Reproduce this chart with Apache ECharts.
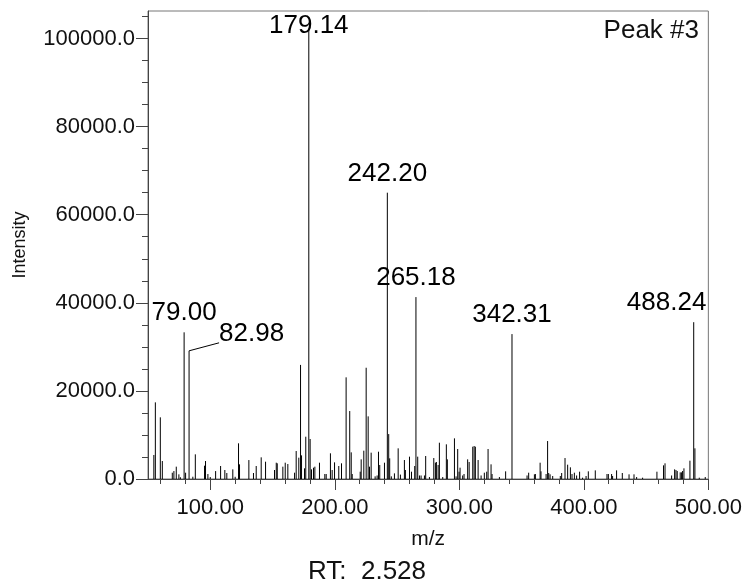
<!DOCTYPE html>
<html>
<head>
<meta charset="utf-8">
<script src="https://cdn.jsdelivr.net/npm/echarts@6/dist/echarts.min.js"></script>
<style>
  html, body { margin: 0; padding: 0; background: #fff; }
  #main { width: 745px; height: 586px; }
</style>
</head>
<body>
<div id="main"></div>
<script>
// m/z of each stick and its intensity
var mzValues = [
  54.7, 55.9, 59.9, 61.5, 69.5, 70.8, 72.7, 74.8, 76.0, 79.00,
  80.2, 82.98, 86.0, 88.0, 95.4, 96.2, 98.1, 100.0, 104.3, 108.3,
  111.7, 113.3, 118.1, 120.0, 122.7, 123.5, 131.0, 134.7, 136.9, 140.9,
  144.4, 151.6, 153.0, 153.8, 158.3, 160.2, 162.3, 167.7, 169.0, 171.1,
  172.5, 173.3, 175.7, 176.7, 179.14, 180.2, 181.3, 182.9, 184.0, 187.7,
  192.0, 193.1, 196.5, 197.9, 199.8, 203.2, 205.4, 209.1, 212.0, 213.2,
  214.0, 220.4, 221.2, 223.3, 225.2, 226.8, 227.9, 229.2, 232.4, 234.0,
  235.1, 236.1, 239.9, 242.20, 243.3, 244.1, 245.4, 247.9, 250.9, 252.7,
  255.9, 256.7, 260.0, 261.6, 264.2, 265.18, 266.6, 268.0, 269.3, 272.0,
  273.0, 276.0, 279.5, 280.8, 281.6, 283.0, 284.0, 286.7, 289.6, 290.4,
  296.1, 297.4, 298.7, 299.8, 300.6, 302.7, 303.8, 306.7, 307.9, 310.8,
  311.9, 312.9, 315.1, 317.5, 320.1, 322.0, 323.1, 325.5, 326.3, 332.2,
  337.2, 342.31, 354.4, 355.7, 360.3, 361.1, 364.9, 365.6, 369.7, 370.9,
  371.8, 372.9, 375.0, 381.1, 382.2, 384.9, 387.0, 389.2, 390.5, 392.4,
  394.2, 396.6, 399.0, 401.8, 403.6, 409.2, 418.6, 419.7, 422.3, 423.1,
  426.3, 430.9, 436.3, 440.3, 442.4, 447.2, 458.7, 464.0, 465.2, 470.5,
  472.9, 474.0, 475.0, 477.4, 478.5, 479.3, 480.4, 485.2, 488.24, 489.2,
  492.7, 497.5
];
var intensities = [
  5450, 17400, 14000, 4080, 1430, 1800, 2800, 1060, 400, 33300,
  1430, 29100, 520, 5600, 3020, 4080, 1130, 450, 1800, 2950,
  2040, 1360, 2190, 500, 8100, 3330, 4300, 1360, 2950, 4920,
  3930, 2040, 3700, 3560, 2800, 3700, 3400, 1430, 6350, 4840,
  25900, 5370, 2420, 9600, 102000, 9080, 2190, 2570, 2800, 3700,
  1130, 1130, 5830, 2040, 3780, 2950, 3560, 23080, 15430, 6050,
  1130, 1660, 4460, 6430, 25260, 14220, 2800, 5980, 600, 800,
  6200, 3180, 3700, 65000, 10200, 4690, 600, 1280, 6960, 1000,
  4310, 2040, 5070, 1660, 2950, 41300, 5070, 800, 800, 800,
  5220, 450, 4760, 3700, 3860, 3180, 8240, 450, 7870, 4460,
  9230, 600, 6810, 1660, 2570, 800, 1130, 4460, 3860, 7330,
  7490, 7330, 4310, 800, 1430, 1660, 6810, 3330, 1130, 450,
  1740, 32900, 800, 1430, 1060, 1130, 3700, 1740, 1130, 8620,
  1360, 1060, 680, 680, 1360, 4760, 3250, 2650, 1130, 1430,
  800, 1660, 300, 680, 1740, 1960, 1130, 1130, 1130, 680,
  1960, 1360, 1060, 1060, 450, 300, 1660, 3100, 3560, 800,
  2190, 2040, 1810, 1510, 1510, 1810, 2420, 4160, 35600, 6960,
  300, 450
];
// peaks that carry an m/z label
var labeledMz = [79.00, 82.98, 179.14, 242.20, 265.18, 342.31, 488.24];

// axis ticks
var xMajorTicks = [100, 200, 300, 400, 500];
var xMinorTicks = [60, 80, 120, 140, 160, 180, 220, 240, 260, 280, 320, 340, 360, 380, 420, 440, 460, 480];
var yMajorTicks = [0, 20000, 40000, 60000, 80000, 100000];
var yMinorTicks = [5000, 10000, 15000, 25000, 30000, 35000, 45000, 50000, 55000, 65000, 70000, 75000, 85000, 90000, 95000, 105000];

var peakTitle = 'Peak #3';
var rtText = 'RT:  2.528';

var FONT = "'Liberation Sans', Arial, sans-serif";
var labelSize = 26;
var labelFont = labelSize + 'px ' + FONT;
// label of 82.98 is pushed aside with a leader line
var leaderShift = { '82.98': [30, -8] };

var measureCtx = document.createElement('canvas').getContext('2d');
measureCtx.font = labelFont;

var peaks = mzValues.map(function (m, i) { return [m, intensities[i]]; });

function renderPeak(params, api) {
  var mz = api.value(0);
  var inten = api.value(1);
  var top = api.coord([mz, inten]);
  var base = api.coord([mz, 0]);
  var children = [{
    type: 'line',
    shape: { x1: top[0], y1: base[1], x2: top[0], y2: top[1] },
    style: { stroke: '#000', lineWidth: 1 }
  }];
  if (labeledMz.indexOf(mz) >= 0) {
    var text = mz.toFixed(2);
    var cs = params.coordSys;
    var capHalf = labelSize * 0.358;
    var lead = leaderShift[text];
    if (lead) {
      var lx = top[0] + lead[0], ly = top[1] + lead[1];
      children.push({
        type: 'line',
        shape: { x1: top[0], y1: top[1], x2: lx, y2: ly },
        style: { stroke: '#000', lineWidth: 1 }
      });
      children.push({
        type: 'text', x: lx, y: ly - capHalf,
        style: { text: text, font: labelFont, fill: '#000', align: 'left', verticalAlign: 'middle' }
      });
    } else {
      var w = measureCtx.measureText(text).width;
      var cx = Math.min(top[0], cs.x + cs.width - 2 - w / 2);
      var cy = Math.max(top[1] - 10 - capHalf, cs.y + 6 + capHalf);
      children.push({
        type: 'text', x: cx, y: cy,
        style: { text: text, font: labelFont, fill: '#000', align: 'center', verticalAlign: 'middle' }
      });
    }
  }
  return { type: 'group', children: children };
}

var myChart = echarts.init(document.getElementById('main'));

var option = {
  animation: false,
  backgroundColor: '#fff',
  grid: {
    left: 148, right: 36, top: 11, bottom: 107,
    show: true, borderColor: '#777', borderWidth: 1
  },
  xAxis: [{
    type: 'value', min: 50, max: 500, position: 'bottom',
    name: 'm/z', nameLocation: 'middle', nameGap: 50,
    nameTextStyle: { fontFamily: FONT, fontSize: 21, color: '#111' },
    axisLine: { lineStyle: { color: '#444' } },
    axisTick: { customValues: xMajorTicks, length: 11, lineStyle: { color: '#444' } },
    axisLabel: {
      customValues: xMajorTicks, margin: 18,
      fontFamily: FONT, fontSize: 22, color: '#111',
      formatter: function (v) { return v.toFixed(2); }
    },
    splitLine: { show: false }
  }, {
    type: 'value', min: 50, max: 500, position: 'bottom',
    axisLine: { show: false },
    axisTick: { customValues: xMinorTicks, length: 5, lineStyle: { color: '#444' } },
    axisLabel: { show: false },
    splitLine: { show: false }
  }],
  yAxis: [{
    type: 'value', min: 0, max: 106250, position: 'left',
    name: 'Intensity', nameLocation: 'middle', nameGap: 119,
    nameTextStyle: { fontFamily: FONT, fontSize: 18, color: '#111' },
    axisLine: { show: true, lineStyle: { color: '#444' } },
    axisTick: { show: true, customValues: yMajorTicks, length: 12, lineStyle: { color: '#444' } },
    axisLabel: {
      customValues: yMajorTicks, margin: 13,
      fontFamily: FONT, fontSize: 22, color: '#111',
      formatter: function (v) { return v.toFixed(1); }
    },
    splitLine: { show: false }
  }, {
    type: 'value', min: 0, max: 106250, position: 'left',
    axisLine: { show: false },
    axisTick: { show: true, customValues: yMinorTicks, length: 6, lineStyle: { color: '#444' } },
    axisLabel: { show: false },
    splitLine: { show: false }
  }],
  graphic: [{
    type: 'text', x: 699, y: 31,
    style: { text: peakTitle, font: '26px ' + FONT, fill: '#111', align: 'right', verticalAlign: 'middle' }
  }, {
    type: 'text', x: 367, y: 572,
    style: { text: rtText, font: '26px ' + FONT, fill: '#111', align: 'center', verticalAlign: 'middle' }
  }],
  series: [{
    type: 'custom',
    xAxisIndex: 0, yAxisIndex: 0,
    renderItem: renderPeak,
    data: peaks,
    silent: true
  }]
};

myChart.setOption(option);
</script>
</body>
</html>
